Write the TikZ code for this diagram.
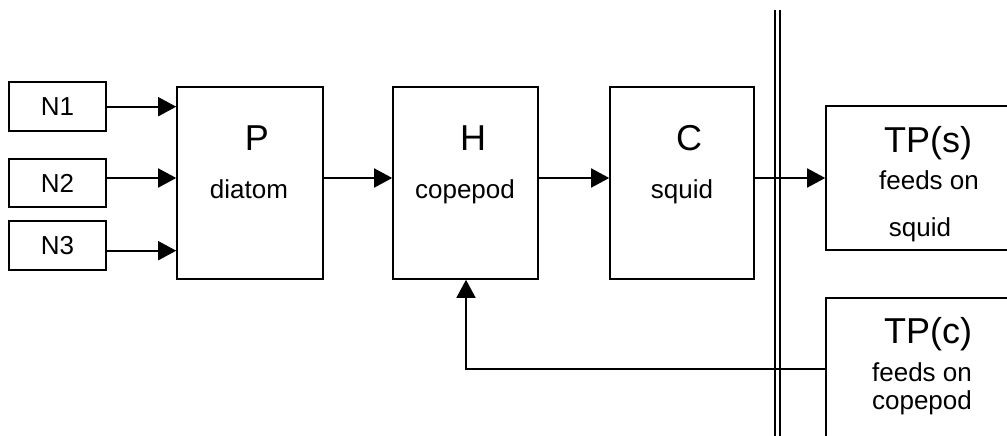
\documentclass[tikz,border=0pt]{standalone}
\usepackage{fontspec}
\setmainfont{Liberation Sans}
\usetikzlibrary{arrows.meta}
\begin{document}
\begin{tikzpicture}[x=1pt,y=-1pt,
  box/.style={draw, line width=1.6pt, rectangle, inner sep=0},
  arr/.style={line width=1.6pt, -{Triangle[length=18pt,width=19pt]}},
  ln/.style={line width=1.6pt},
  big/.style={inner sep=0, anchor=base, font=\fontsize{36}{40}\selectfont},
  small/.style={inner sep=0, anchor=base, font=\fontsize{26}{30}\selectfont},
  ntext/.style={font=\fontsize{26}{30}\selectfont}]
\useasboundingbox (0,0) rectangle (1007,436);
\clip (0,0) rectangle (1007,436);
% nutrient boxes
\node[box, ntext, minimum width=97pt, minimum height=49pt] (N1) at (57.5,106.5) {N1};
\node[box, ntext, minimum width=97pt, minimum height=48pt] (N2) at (57.5,183) {N2};
\node[box, ntext, minimum width=97pt, minimum height=49pt] (N3) at (57.5,245.5) {N3};
% main boxes
\node[box, minimum width=146pt, minimum height=192pt] (P) at (250,183) {};
\node[box, minimum width=145pt, minimum height=192pt] (H) at (465.5,183) {};
\node[box, minimum width=144pt, minimum height=192pt] (C) at (682,183) {};
\node[box, minimum width=194pt, minimum height=144pt] (TPs) at (923,178) {};
\node[box, minimum width=194pt, minimum height=152pt] (TPc) at (923,374) {};
% texts
\node[big] (Pt) at (257,150) {P};
\node[small] (Pd) at (249,198) {diatom};
\node[big] (Ht) at (473,150) {H};
\node[small] (Hd) at (465,198) {copepod};
\node[big] (Ct) at (689,150) {C};
\node[small] (Cd) at (682,198) {squid};
\node[big] (TPst) at (928,152) {TP(s)};
\node[small] (TPsa) at (929,189) {feeds on};
\node[small] (TPsb) at (920,236) {squid};
\node[big] (TPct) at (928,343) {TP(c)};
\node[small] (TPca) at (922,381) {feeds on};
\node[small] (TPcb) at (922,409) {copepod};
% coordinates
\coordinate (p1) at (177,106.7);
\coordinate (p2) at (177,178);
\coordinate (p3) at (177,250.7);
\coordinate (fb) at (466,369);
% arrows
\draw[arr] (N1.east |- p1) -- (P.west |- p1);
\draw[arr] (N2.east |- p2) -- (P.west |- p2);
\draw[arr] (N3.east |- p3) -- (P.west |- p3);
\draw[arr] (P.east |- p2) -- (H.west |- p2);
\draw[arr] (H.east |- p2) -- (C.west |- p2);
\draw[arr] (C.east |- p2) -- (TPs.west |- p2);
\draw[arr] (TPc.west |- fb) -- (fb) -- (fb |- H.south);
% double boundary line
\coordinate (dtop) at (777.5,10);
\coordinate (dbot) at (777.5,440);
\draw[line width=2.4pt] ([xshift=-2.6pt]dtop) -- ([xshift=-2.6pt]dbot);
\draw[line width=2.4pt] ([xshift=2.6pt]dtop) -- ([xshift=2.6pt]dbot);
\end{tikzpicture}
\end{document}
